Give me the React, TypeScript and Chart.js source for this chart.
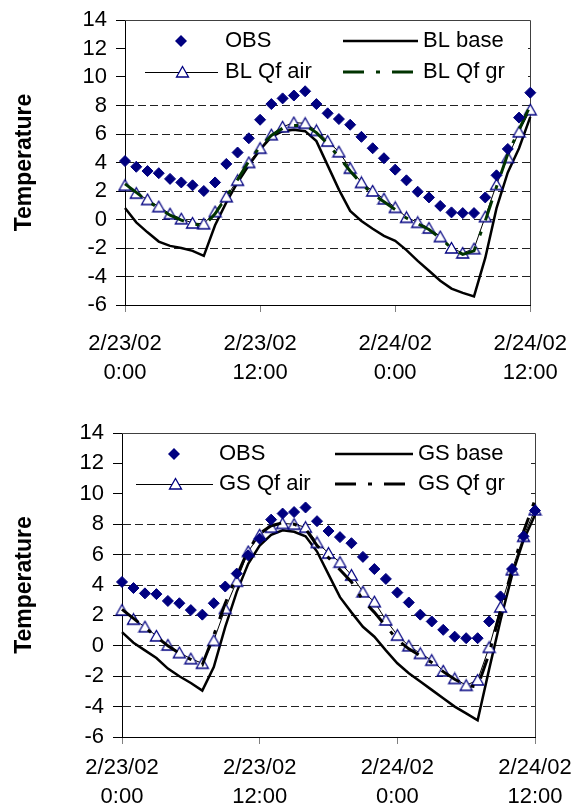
import React, { useEffect, useRef } from 'react';
import { Chart, registerables } from 'chart.js';

Chart.register(...registerables);

const FONT = "'Liberation Sans', Arial, Helvetica, sans-serif";

// hours since 2/23/02 0:00
const HOURS = [0, 1, 2, 3, 4, 5, 6, 7, 8, 9, 10, 11, 12, 13, 14, 15, 16, 17, 18, 19, 20, 21, 22, 23, 24, 25, 26, 27, 28, 29, 30, 31, 32, 33, 34, 35, 36];
const X_TICKS = [0, 12, 24, 36];
const X_TICK_LABELS = [['2/23/02', '0:00'], ['2/23/02', '12:00'], ['2/24/02', '0:00'], ['2/24/02', '12:00']];
const Y_TICKS = [-6, -4, -2, 0, 2, 4, 6, 8, 10, 12, 14];
const Y_TITLE = 'Temperature';

// ---- top panel (BL) ----
const BL_LABELS = ['OBS', 'BL base', 'BL Qf air', 'BL Qf gr'];
const BL_OBS = [4.1, 3.7, 3.4, 3.25, 2.85, 2.6, 2.4, 2.0, 2.6, 3.9, 4.7, 5.7, 7.0, 8.1, 8.5, 8.7, 9.0, 8.1, 7.45, 7.05, 6.65, 5.8, 5.0, 4.3, 3.5, 2.75, 1.95, 1.55, 0.95, 0.5, 0.45, 0.45, 1.55, 3.1, 4.95, 7.15, 8.9];
const BL_BASE = [0.8, -0.2, -0.9, -1.55, -1.85, -2.0, -2.2, -2.55, -0.4, 1.2, 2.6, 3.8, 4.9, 5.8, 6.2, 6.3, 6.2, 5.5, 3.8, 2.1, 0.6, -0.1, -0.65, -1.15, -1.5, -2.15, -2.9, -3.6, -4.3, -4.85, -5.15, -5.4, -2.7, 0.8, 3.3, 5.0, 7.2];
const BL_QF_AIR = [2.4, 1.85, 1.4, 0.9, 0.4, 0.05, -0.25, -0.3, 0.55, 1.6, 2.75, 4.0, 5.0, 5.95, 6.5, 6.8, 6.75, 6.25, 5.5, 4.75, 3.6, 2.6, 2.0, 1.45, 0.85, 0.15, -0.2, -0.6, -1.2, -2.0, -2.35, -2.05, 0.2, 2.45, 4.35, 6.15, 7.7];
const BL_QF_GR = [2.5, 1.9, 1.3, 0.8, 0.3, -0.05, -0.3, -0.45, 0.4, 1.6, 2.8, 4.1, 5.1, 5.9, 6.4, 6.6, 6.6, 6.1, 5.3, 4.4, 3.4, 2.5, 1.8, 1.25, 0.7, 0.1, -0.3, -0.7, -1.3, -2.0, -2.45, -2.2, -0.1, 2.3, 4.6, 6.3, 8.0];

// ---- bottom panel (GS) ----
const GS_LABELS = ['OBS', 'GS base', 'GS Qf air', 'GS Qf gr'];
const GS_OBS = [4.2, 3.8, 3.45, 3.4, 2.95, 2.8, 2.35, 2.05, 2.8, 3.9, 4.75, 5.95, 7.05, 8.3, 8.7, 8.8, 9.1, 8.2, 7.55, 7.15, 6.75, 5.85, 5.05, 4.4, 3.5, 2.85, 2.05, 1.6, 1.05, 0.6, 0.5, 0.5, 1.6, 3.25, 5.05, 7.2, 8.9];
const GS_BASE = [0.9, 0.2, -0.3, -0.8, -1.5, -2.0, -2.45, -2.95, -1.4, 1.25, 3.55, 5.4, 6.6, 7.3, 7.6, 7.5, 7.2, 6.2, 4.7, 3.2, 2.2, 1.25, 0.6, -0.3, -1.15, -1.8, -2.35, -2.9, -3.45, -4.0, -4.45, -4.9, -1.55, 1.7, 4.65, 6.95, 8.6];
const GS_QF_AIR = [2.35, 1.75, 1.25, 0.65, 0.05, -0.45, -0.85, -1.15, 0.35, 2.45, 4.25, 6.2, 7.3, 7.8, 8.05, 8.0, 7.8, 6.8, 6.1, 5.5, 4.65, 3.55, 2.9, 1.7, 0.7, 0.0, -0.5, -0.95, -1.65, -2.15, -2.6, -2.25, -0.1, 2.55, 5.0, 7.2, 8.95];
const GS_QF_GR = [2.4, 1.8, 1.2, 0.6, 0.0, -0.5, -0.9, -1.25, 0.7, 2.8, 4.6, 6.3, 7.4, 7.9, 8.1, 8.0, 7.7, 6.6, 5.8, 5.0, 4.2, 3.0, 2.2, 1.3, 0.4, -0.2, -0.65, -1.1, -1.7, -2.2, -2.6, -2.7, -0.5, 2.3, 5.0, 7.5, 9.6];

const NAVY = '#000080';
const GR_DASH = [21, 12, 4, 12];

type Area = { left: number; right: number; top: number; bottom: number };
type LegendLayout = {
  rows: [number, number];
  diamondX: number;
  col1Text: number;
  airLine: [number, number];
  col2Line: [number, number];
  col2Text: number;
  boxRight: number;
};

type PanelProps = {
  labels: string[];
  obs: number[];
  base: number[];
  air: number[];
  gr: number[];
  grColor: string;
  area: Area;
  height: number;
  xLabelPad: number;
  legend: LegendLayout;
};

function makeTriangle(): HTMLCanvasElement {
  const c = document.createElement('canvas');
  c.width = 15;
  c.height = 14;
  const g = c.getContext('2d')!;
  g.beginPath();
  g.moveTo(7.5, 1.5);
  g.lineTo(13.5, 12);
  g.lineTo(1.5, 12);
  g.closePath();
  g.fillStyle = '#fff';
  g.fill();
  g.lineWidth = 1.3;
  g.strokeStyle = NAVY;
  g.stroke();
  return c;
}

function toXY(values: number[]) {
  return HOURS.map((h, i) => ({ x: h, y: values[i] }));
}

function Panel(p: PanelProps) {
  const ref = useRef<HTMLCanvasElement | null>(null);
  useEffect(() => {
    if (!ref.current) return;
    const tri = makeTriangle();
    const lg = p.legend;
    const legendPlugin = {
      id: 'panelLegend',
      beforeDatasetsDraw(chart: any) {
        const { ctx, chartArea: a } = chart;
        ctx.save();
        // plot-area frame (top, right)
        ctx.strokeStyle = '#404040';
        ctx.lineWidth = 1;
        ctx.setLineDash([]);
        ctx.beginPath();
        ctx.moveTo(Math.round(a.left), Math.round(a.top) + 0.5);
        ctx.lineTo(Math.round(a.right) + 0.5, Math.round(a.top) + 0.5);
        ctx.lineTo(Math.round(a.right) + 0.5, Math.round(a.bottom));
        ctx.stroke();
        // legend box
        const L = a.left;
        const T = a.top;
        ctx.fillStyle = '#fff';
        ctx.fillRect(L + 1, T + 4, lg.boxRight - L - 1, 62);
        const r1 = T + lg.rows[0];
        const r2 = T + lg.rows[1];
        // OBS diamond
        const dx = L + lg.diamondX;
        ctx.fillStyle = NAVY;
        ctx.beginPath();
        ctx.moveTo(dx - 6, r1);
        ctx.lineTo(dx, r1 - 6);
        ctx.lineTo(dx + 6, r1);
        ctx.lineTo(dx, r1 + 6);
        ctx.closePath();
        ctx.fill();
        // base line
        ctx.strokeStyle = '#000';
        ctx.lineWidth = 2.5;
        ctx.beginPath();
        ctx.moveTo(L + lg.col2Line[0], r1);
        ctx.lineTo(L + lg.col2Line[1], r1);
        ctx.stroke();
        // air line + marker
        ctx.lineWidth = 1;
        ctx.beginPath();
        ctx.moveTo(L + lg.airLine[0], Math.round(r2) + 0.5);
        ctx.lineTo(L + lg.airLine[1], Math.round(r2) + 0.5);
        ctx.stroke();
        const mx = Math.round(L + (lg.airLine[0] + lg.airLine[1]) / 2);
        ctx.drawImage(tri, mx - Math.floor(tri.width / 2), Math.round(r2) - tri.height / 2);
        // gr line
        ctx.strokeStyle = p.grColor;
        ctx.lineWidth = 3;
        ctx.setLineDash(GR_DASH);
        ctx.beginPath();
        ctx.moveTo(L + lg.col2Line[0], r2);
        ctx.lineTo(L + lg.col2Line[1], r2);
        ctx.stroke();
        ctx.setLineDash([]);
        // texts
        ctx.fillStyle = '#000';
        ctx.font = `22px ${FONT}`;
        ctx.textBaseline = 'middle';
        ctx.textAlign = 'left';
        ctx.fillText(p.labels[0], L + lg.col1Text, r1);
        ctx.fillText(p.labels[1], L + lg.col2Text, r1);
        ctx.fillText(p.labels[2], L + lg.col1Text, r2);
        ctx.fillText(p.labels[3], L + lg.col2Text, r2);
        ctx.restore();
      },
    };

    const chart = new Chart(ref.current, {
      type: 'line',
      data: {
        datasets: [
          {
            label: p.labels[0],
            data: toXY(p.obs),
            showLine: false,
            pointStyle: 'rectRot',
            pointRadius: 5.5,
            pointBackgroundColor: NAVY,
            pointBorderColor: NAVY,
            pointBorderWidth: 1,
            order: 0,
            clip: false,
          },
          {
            label: p.labels[1],
            data: toXY(p.base),
            borderColor: '#000',
            borderWidth: 2.5,
            pointRadius: 0,
            tension: 0,
            fill: false,
            order: 3,
            clip: false,
          },
          {
            label: p.labels[2],
            data: toXY(p.air),
            borderColor: '#000',
            borderWidth: 1,
            pointStyle: tri as any,
            pointRadius: 6,
            tension: 0,
            fill: false,
            order: 2,
            clip: false,
          },
          {
            label: p.labels[3],
            data: toXY(p.gr),
            borderColor: p.grColor,
            borderWidth: 3,
            borderDash: GR_DASH,
            pointRadius: 0,
            tension: 0,
            fill: false,
            order: 1,
            clip: false,
          },
        ] as any,
      },
      options: {
        responsive: false,
        animation: false,
        devicePixelRatio: 1,
        events: [],
        layout: { padding: { left: 0, top: p.area.top, right: 585 - p.area.right, bottom: 0 } },
        plugins: { legend: { display: false }, tooltip: { enabled: false } },
        scales: {
          x: {
            type: 'linear',
            min: 0,
            max: 36,
            afterBuildTicks: (s: any) => {
              s.ticks = X_TICKS.map((v) => ({ value: v }));
            },
            ticks: {
              autoSkip: false,
              maxRotation: 0,
              color: '#000',
              padding: p.xLabelPad,
              font: { family: FONT, size: 22, lineHeight: 1.3 },
              callback: (v: any) => X_TICK_LABELS[X_TICKS.indexOf(Number(v))] as any,
            },
            grid: { drawOnChartArea: false, drawTicks: true, tickLength: 7, tickColor: '#808080', color: '#808080' },
            border: { display: true, color: '#000', width: 1 },
            afterFit: (s: any) => {
              s.height = p.height - p.area.bottom;
            },
          },
          y: {
            type: 'linear',
            min: -6,
            max: 14,
            afterBuildTicks: (s: any) => {
              s.ticks = Y_TICKS.map((v) => ({ value: v }));
            },
            ticks: {
              autoSkip: false,
              color: '#000',
              padding: 9,
              font: { family: FONT, size: 22, lineHeight: 1 },
            },
            grid: {
              color: (c: any) => (c.tick && (c.tick.value <= -6 || c.tick.value >= 14) ? 'rgba(0,0,0,0)' : '#222'),
              tickColor: '#000',
              tickLength: 9,
              lineWidth: 1,
            },
            border: { display: true, color: '#000', width: 1, dash: [8, 4] },
            title: {
              display: true,
              text: Y_TITLE,
              color: '#000',
              font: { family: FONT, size: 23, weight: 'bold', lineHeight: 1.2 },
              padding: { top: 11, bottom: 0 },
            },
            afterFit: (s: any) => {
              s.width = p.area.left;
            },
          },
        },
      } as any,
      plugins: [legendPlugin],
    });
    return () => chart.destroy();
  }, []);
  return <canvas ref={ref} width={585} height={p.height} style={{ display: 'block', width: 585, height: p.height }} />;
}

export default function App() {
  return (
    <div style={{ position: 'absolute', left: 0, top: 0, width: 585, height: 810, background: '#fff' }}>
      <Panel
        labels={BL_LABELS}
        obs={BL_OBS}
        base={BL_BASE}
        air={BL_QF_AIR}
        gr={BL_QF_GR}
        grColor="#003300"
        area={{ left: 125, right: 537, top: 15, bottom: 305 }}
        height={405}
        xLabelPad={18}
        legend={{ rows: [21, 52], diamondX: 56, col1Text: 100, airLine: [20, 93], col2Line: [218, 293], col2Text: 298, boxRight: 528 }}
      />
      <Panel
        labels={GS_LABELS}
        obs={GS_OBS}
        base={GS_BASE}
        air={GS_QF_AIR}
        gr={GS_QF_GR}
        grColor="#000000"
        area={{ left: 122, right: 535, top: 28, bottom: 332 }}
        height={405}
        xLabelPad={10}
        legend={{ rows: [21, 51], diamondX: 52, col1Text: 97, airLine: [14, 91], col2Line: [213, 291], col2Text: 296, boxRight: 527 }}
      />
    </div>
  );
}
